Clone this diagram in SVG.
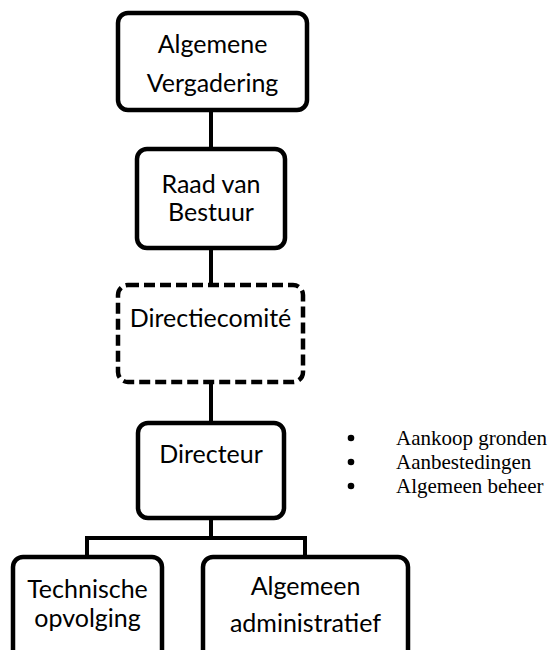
<svg xmlns="http://www.w3.org/2000/svg" width="548" height="650" viewBox="0 0 548 650">
<style>
.box{fill:#fff;stroke:#000;stroke-width:4.5}
.dash{fill:#fff;stroke:#000;stroke-width:4.5;stroke-dasharray:11 5}
.lbl{font-family:Lato,"Liberation Sans",sans-serif;font-size:25px;fill:#000;text-anchor:middle}
.conn{stroke:#000;stroke-width:4;fill:none}
.bul{font-family:"Liberation Serif","Times New Roman",serif;font-size:21px;fill:#000}
.dot{fill:#000}
</style>
<rect width="548" height="650" fill="#fff"/>
<g id="connectors">
<line class="conn" x1="211" y1="110" x2="211" y2="149"/>
<line class="conn" x1="211" y1="248" x2="211" y2="285"/>
<line class="conn" x1="211" y1="382" x2="211" y2="423"/>
<line class="conn" x1="211" y1="518" x2="211" y2="538"/>
<polyline class="conn" points="87,557 87,538 305,538 305,557"/>
</g>
<g id="algemene-vergadering">
<rect class="box" x="118" y="13" width="189" height="97" rx="10"/>
<text class="lbl" x="212.5" y="53">Algemene</text>
<text class="lbl" x="212.5" y="92">Vergadering</text>
</g>
<g id="raad-van-bestuur">
<rect class="box" x="137" y="149" width="148" height="99" rx="10"/>
<text class="lbl" x="211" y="193">Raad van</text>
<text class="lbl" x="211" y="221">Bestuur</text>
</g>
<g id="directiecomite">
<rect class="dash" x="118" y="285" width="185" height="97" rx="10"/>
<text class="lbl" x="210.5" y="327">Directiecomité</text>
</g>
<g id="directeur">
<rect class="box" x="138" y="423" width="146" height="95" rx="10"/>
<text class="lbl" x="211" y="463">Directeur</text>
</g>
<g id="technische-opvolging">
<rect class="box" x="13" y="557" width="149" height="110" rx="10"/>
<text class="lbl" x="87.5" y="598">Technische</text>
<text class="lbl" x="87.5" y="627">opvolging</text>
</g>
<g id="algemeen-administratief">
<rect class="box" x="203" y="557" width="205" height="110" rx="10"/>
<text class="lbl" x="305.5" y="595">Algemeen</text>
<text class="lbl" x="305.5" y="632">administratief</text>
</g>
<g id="taken">
<circle class="dot" cx="351" cy="438" r="3.3"/>
<text class="bul" x="396" y="445">Aankoop gronden</text>
<circle class="dot" cx="351" cy="462" r="3.3"/>
<text class="bul" x="396" y="469">Aanbestedingen</text>
<circle class="dot" cx="351" cy="486" r="3.3"/>
<text class="bul" x="396" y="493">Algemeen beheer</text>
</g>
</svg>
